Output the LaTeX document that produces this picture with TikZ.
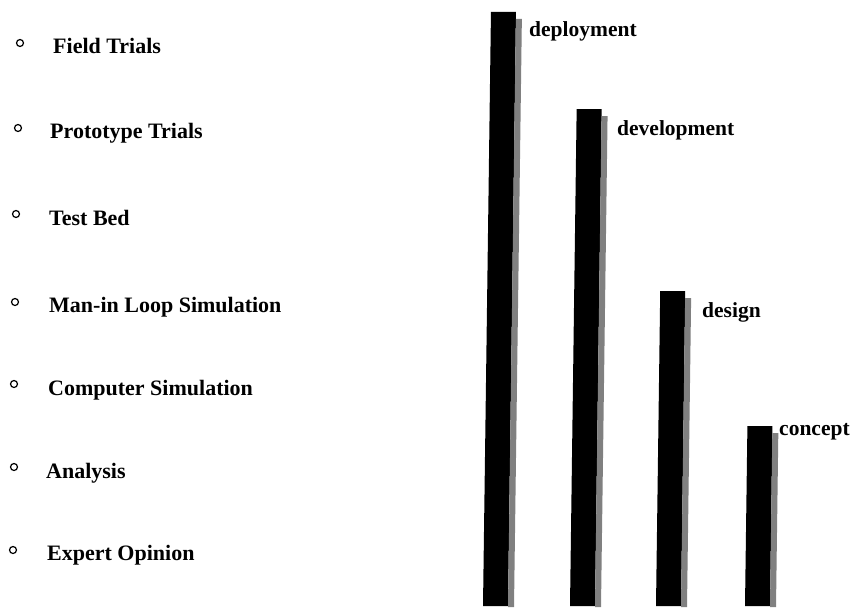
\documentclass[tikz,border=0pt]{standalone}
\usepackage{fontspec}
\setmainfont{Liberation Serif}
\tikzset{
  item/.style={anchor=base west, inner sep=0pt, font=\fontsize{22}{24}\selectfont\bfseries},
  lbl/.style={anchor=base west, inner sep=0pt, font=\fontsize{21.5}{24}\selectfont\bfseries},
  bul/.style={circle, draw, line width=1.2pt, minimum size=7pt, inner sep=0pt},
  shadowfill/.style={fill=black!50}
}
\newcommand\drawcol[2]{%
  \pgfmathsetmacro\ta{#1+0.0134*(606-#2)}%
  \pgfmathsetmacro\tb{#1+0.0134*(606-(#2+7))}%
  \fill[black] (#1,606) -- (#1+25,606) -- (\ta+25,#2) -- (\ta,#2) -- cycle;
  \fill[shadowfill] (#1+25,607) -- (#1+31,607) -- (\tb+31,#2+7) -- (\tb+25,#2+7) -- cycle;
}
\begin{document}
\begin{tikzpicture}[x=1pt,y=-1pt]
\useasboundingbox (0,0) rectangle (851,610);
% left list
\node[bul] (b1) at (20,43) {};
\node[item] (t1) at (53,53) {Field Trials};
\node[bul] (b2) at (18,128) {};
\node[item] (t2) at (50,138) {Prototype Trials};
\node[bul] (b3) at (16,214) {};
\node[item] (t3) at (49,225) {Test Bed};
\node[bul] (b4) at (15,302) {};
\node[item] (t4) at (49,312) {Man-in Loop Simulation};
\node[bul] (b5) at (14,384) {};
\node[item] (t5) at (48,395) {Computer Simulation};
\node[bul] (b6) at (14,467) {};
\node[item] (t6) at (46,478) {Analysis};
\node[bul] (b7) at (13,550) {};
\node[item] (t7) at (47,560) {Expert Opinion};
% bars
\drawcol{483}{12}
\drawcol{570}{109}
\drawcol{656}{291}
\drawcol{745}{426}
% bar labels
\node[lbl] (l1) at (529,37) {deployment};
\node[lbl] (l2) at (617,135) {development};
\node[lbl] (l3) at (702,317) {design};
\node[lbl] (l4) at (779,435) {concept};
\end{tikzpicture}
\end{document}
